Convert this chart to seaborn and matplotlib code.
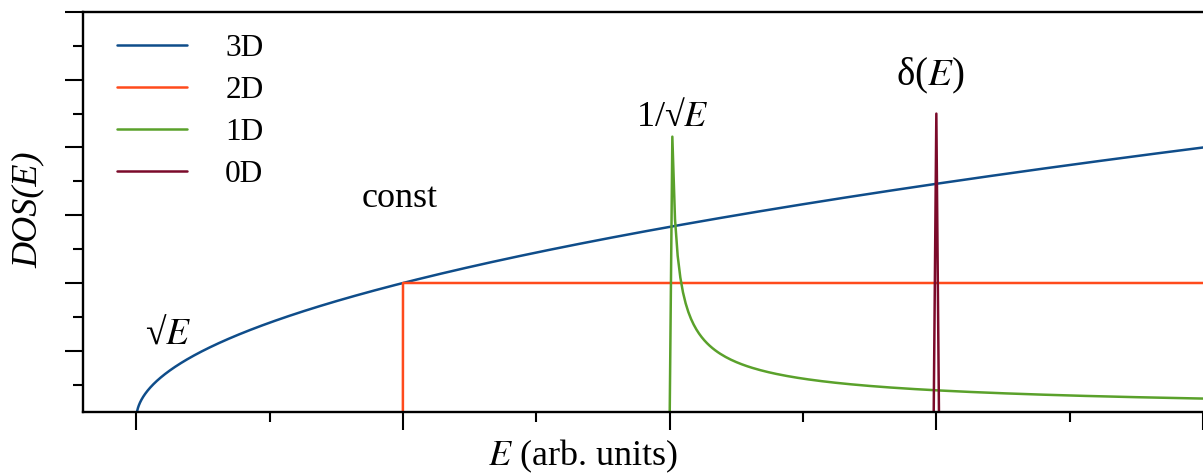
import numpy as np
import pandas as pd
import matplotlib
matplotlib.use("Agg")
import matplotlib.pyplot as plt
import seaborn as sns
from matplotlib.ticker import MultipleLocator, NullFormatter

# Density of states for systems of different dimensionality
dims = ["3D", "2D", "1D", "0D"]
onsets = [0.0, 1.0, 2.0, 3.0]          # band edge of each curve (arb. units)
amplitudes = [1.0, 1.0, 0.208, 2.25]   # prefactor / peak height
colors = ["#0F4D8A", "#FF4A1C", "#5AA12B", "#7B0A2A"]
peak_width = 0.003                     # width of the 0D level

# energy grids: fine for the smooth bands, coarse for the 1D/0D features
energy_fine = np.arange(8001) / 2000.0     # 0 ... 4 in steps of 0.0005
energy_coarse = np.arange(401) / 100.0     # 0 ... 4 in steps of 0.01


def dos(dim, e0, amp, e):
    de = e - e0
    if dim == "3D":
        return amp * np.sqrt(np.clip(de, 0, None))
    if dim == "2D":
        return np.where(de >= 0, amp, 0.0)
    if dim == "1D":
        out = np.zeros_like(e)
        pos = de > 0
        out[pos] = amp / np.sqrt(de[pos])
        return out
    return amp * np.exp(-0.5 * (de / peak_width) ** 2)


frames = []
for d, e0, a in zip(dims, onsets, amplitudes):
    e = energy_fine if d in ("3D", "2D") else energy_coarse
    frames.append(pd.DataFrame({"E": e, "DOS": dos(d, e0, a, e), "dim": d}))
df = pd.concat(frames, ignore_index=True)

sns.set_theme(style="ticks")
plt.rcParams["font.family"] = ["Liberation Serif", "DejaVu Serif"]
plt.rcParams["mathtext.fontset"] = "stix"
plt.rcParams["text.color"] = "black"
plt.rcParams["axes.labelcolor"] = "black"

fig = plt.figure(figsize=(12.03, 4.74), dpi=100)
ax = fig.add_axes([0.069, 0.1314, 0.931, 0.8433])

sns.lineplot(data=df, x="E", y="DOS", hue="dim", hue_order=dims,
             palette=dict(zip(dims, colors)), estimator=None, sort=False,
             linewidth=1.8, ax=ax)

ax.set_xlim(-0.2, 4.0)
ax.set_ylim(0.05, 3.0)

ax.xaxis.set_major_locator(MultipleLocator(1.0))
ax.xaxis.set_minor_locator(MultipleLocator(0.5))
ax.yaxis.set_major_locator(MultipleLocator(0.5))
ax.yaxis.set_minor_locator(MultipleLocator(0.25))
for axis in (ax.xaxis, ax.yaxis):
    axis.set_major_formatter(NullFormatter())
    axis.set_minor_formatter(NullFormatter())
ax.tick_params(which="major", direction="out", length=13, width=1.5, color="black")
ax.tick_params(which="minor", direction="out", length=7, width=1.5, color="black")

for side in ("left", "bottom", "top"):
    ax.spines[side].set_linewidth(1.7)
    ax.spines[side].set_color("black")
ax.spines["right"].set_visible(False)

ax.set_xlabel("$E$ (arb. units)", fontsize=26)
ax.xaxis.set_label_coords(0.446, -0.064)
ax.set_ylabel("DOS(E)", fontsize=26, fontstyle="italic")
ax.yaxis.set_label_coords(-0.034, 0.505)

ann = dict(fontsize=26, ha="center", va="baseline")
ax.text(0.118, 0.55, "√$E$", fontsize=27, ha="center", va="baseline")
ax.text(0.988, 1.56, "const", **ann)
ax.text(2.01, 2.16, "1/√$E$", **ann)
ax.text(2.975, 2.46, "δ($E$)", fontsize=28, ha="center", va="baseline")

handles, labels = ax.get_legend_handles_labels()
ax.legend(handles, labels, loc="upper left", bbox_to_anchor=(0.0192, 0.977),
          frameon=False, fontsize=22.5, handlelength=2.24, handletextpad=1.22,
          labelspacing=0.42, borderaxespad=0.0)

fig.savefig("out.png", dpi=100)
